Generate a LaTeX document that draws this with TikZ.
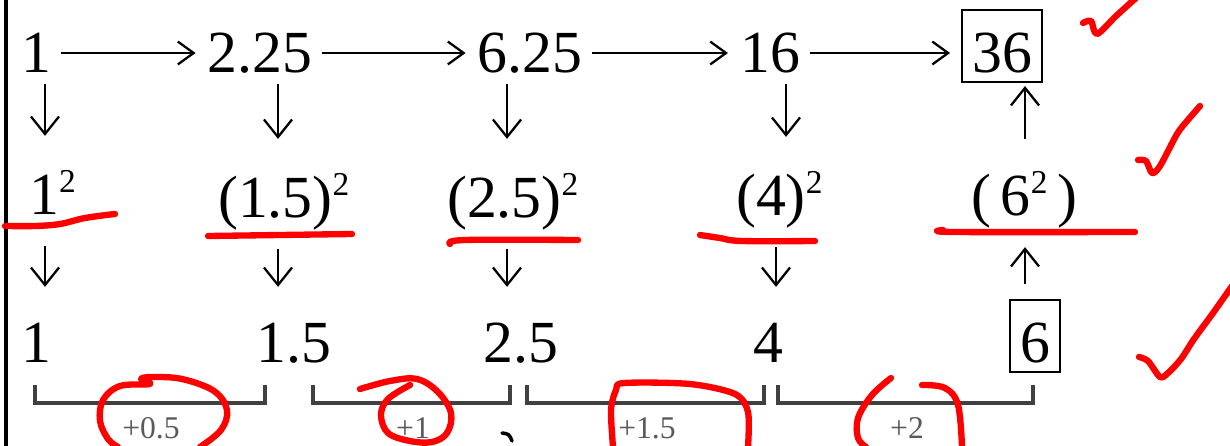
\documentclass[tikz,border=0pt]{standalone}
\usepackage{fontspec}
\setmainfont{Liberation Serif}
\usetikzlibrary{arrows.meta}

\newcommand\hochzwei{\raisebox{0.36em}{\fontsize{19}{20}\selectfont 2}}

\begin{document}
\begin{tikzpicture}[x=0.02cm,y=-0.02cm,
    line width=1.3pt,
    >={Straight Barb[length=9pt,width=13pt]},
    num/.style={inner sep=0pt,anchor=base,text height=0.84cm,text depth=0.08cm,
      font=\fontsize{34}{40}\selectfont},
    sq/.style={num,draw,line width=1.2pt,inner xsep=0.2cm,inner ysep=0.2cm,
      text height=1.04cm,text depth=0pt},
    hor/.style={->,shorten <=0.18cm,shorten >=0.22cm},
    vtip/.style={-{Straight Barb[length=10pt,width=16pt]}},
    dnA/.style={vtip,shorten <=0.14cm,shorten >=0.70cm},
    dnB/.style={vtip,shorten <=0.54cm,shorten >=0.64cm},
    upA/.style={vtip,shorten <=0.30cm,shorten >=0.54cm},
    upB/.style={vtip,shorten <=0.66cm,shorten >=0.06cm},
    brk/.style={draw=black!75,line width=1.8pt},
    gain/.style={anchor=base,text=black!65,font=\fontsize{18}{20}\selectfont},
    ink/.style={red,line width=3.6pt,line cap=round,line join=round}]
\useasboundingbox (0,0) rectangle (1230,446);
%
% ============ Rand links ============
\draw[line width=2.2pt] (6,0) -- (6,446);
%
% Spalten der senkrechten Pfeile
\coordinate (col1) at (45,0);
\coordinate (col2) at (278,0);
\coordinate (col3) at (507,0);
\coordinate (col4) at (786,0);
\coordinate (col4b) at (776,0);
\coordinate (col5) at (1025,0);
%
% ============ Zeile 1: Quadrate ============
\node[num] (a1) at (36,72) {1};
\node[num] (a2) at (260,72) {2.25};
\node[num] (a3) at (530,72) {6.25};
\node[num] (a4) at (770,72) {16};
\node[sq] (a5) at (1002,72) {36};
\draw[hor] (a1.east) -- (a2.west);
\draw[hor] (a2.east) -- (a3.west);
\draw[hor] (a3.east) -- (a4.west);
\draw[hor] (a4.east) -- (a4.east -| a5.west);
%
% ============ Zeile 2: als Quadrat geschrieben ============
\node[num,anchor=base west] (b1) at (28,214) {1\hochzwei};
\node[num,anchor=base west] (b2) at (217,217) {(1.5)\hochzwei};
\node[num,anchor=base west] (b3) at (446,217) {(2.5)\hochzwei};
\node[num,anchor=base west] (b4) at (735,215) {(4)\hochzwei};
\node[num,anchor=base west] (b5) at (970,215) {(\,6\hochzwei\,)};
\draw[dnA] (a1.south -| col1) -- (b1.north -| col1);
\draw[dnA] (a2.south -| col2) -- (b2.north -| col2);
\draw[dnA] (a3.south -| col3) -- (b3.north -| col3);
\draw[dnA] (a4.south -| col4) -- (b4.north -| col4);
\draw[upB] (b5.north -| col5) -- (a5.south -| col5);
%
% ============ Zeile 3: Basen ============
\node[num] (c1) at (36,362) {1};
\node[num] (c2) at (294,362) {1.5};
\node[num] (c3) at (521,362) {2.5};
\node[num] (c4) at (768,362) {4};
\node[sq] (c5) at (1035,362) {6};
\draw[dnB] (b1.south -| col1) -- (c1.north -| col1);
\draw[dnB] (b2.south -| col2) -- (c2.north -| col2);
\draw[dnB] (b3.south -| col3) -- (c3.north -| col3);
\draw[dnB] (b4.south -| col4b) -- (c4.north -| col4b);
\draw[upA] (c5.north -| col5) -- (b5.south -| col5);
%
% ============ Klammern mit Zuwachs ============
\draw[brk] (35,385) |- (265,403) -- (265,385);
\draw[brk] (313,385) |- (510,403) -- (510,385);
\draw[brk] (527,385) |- (764,403) -- (764,385);
\draw[brk] (778,385) |- (1033,403) -- (1033,385);
\node[gain] (d1) at (151,438) {+0.5};
\node[gain] (d2) at (413,438) {+1};
\node[gain] (d3) at (647,438) {+1.5};
\node[gain] (d4) at (907,438) {+2};
% Rest eines abgeschnittenen Zeichens
\draw[line width=2pt,line cap=round] (502,433) .. controls (509,434) .. (512,441);
%
% ============ rote Korrekturen ============
% Unterstreichungen
\draw[ink] plot[smooth,tension=0.6] coordinates {(5,226) (35,226) (60,224) (85,218) (115,214)};
\draw[ink] (208,236) -- (352,234);
\draw[ink] plot[smooth,tension=0.6] coordinates {(450,244) (465,240) (578,240)};
\draw[ink] plot[smooth,tension=0.6] coordinates {(700,235) (720,238) (742,241) (815,241)};
\draw[ink] plot[smooth,tension=0.6] coordinates {(943,230) (955,232) (1135,232)};
% Haken
\draw[ink] plot[smooth,tension=0.5] coordinates {(1083,23) (1091,21) (1097,34) (1116,16) (1136,-2)};
\draw[ink] plot[smooth,tension=0.5] coordinates {(1138,160) (1146,161) (1152,173) (1160,166) (1177,134) (1187,121) (1200,106)};
\draw[ink] plot[smooth,tension=0.5] coordinates {(1139,357) (1148,361) (1160,377) (1168,373) (1181,359) (1194,339) (1213,313) (1232,286)};
% Kringel um die Zuwaechse
\draw[ink] plot[smooth,tension=0.6] coordinates {(200,447) (221,430) (227,410) (214,391) (182,379) (152,377) (141,379) (150,384) (120,386) (103,400) (100,421) (108,439) (118,447)};
\draw[ink] plot[smooth,tension=0.6] coordinates {(360,389) (390,381) (417,379) (438,392) (451,413) (447,433) (432,442) (410,441) (388,433) (381,415) (388,399) (410,385)};
\draw[ink] plot[smooth,tension=0.5] coordinates {(613,447) (611,410) (616,390) (624,383) (690,384) (735,394) (748,412) (748,447)};
\draw[ink] plot[smooth,tension=0.6] coordinates {(891,378) (872,395) (858,418) (858,438) (866,447)};
\draw[ink] plot[smooth,tension=0.6] coordinates {(922,385) (945,388) (958,405) (962,447)};
\end{tikzpicture}
\end{document}
